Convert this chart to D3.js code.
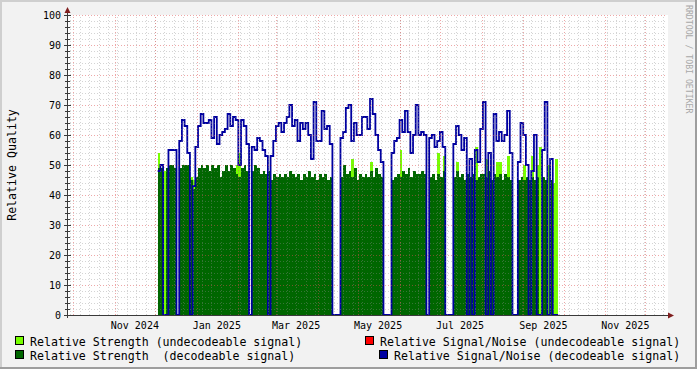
<!DOCTYPE html>
<html><head><meta charset="utf-8">
<script src="https://cdn.jsdelivr.net/npm/d3@7"></script>
<style>
html,body{margin:0;padding:0;background:#F2F2F2;}
svg{display:block;}
text{font-family:"DejaVu Sans Mono",monospace;}
</style></head><body>
<svg id="c" width="697" height="369"></svg>
<script>
// ---------------- data ----------------
const startDate = new Date(2024, 11, 3);   // first sample (Dec 3 2024)
const stepDays = 2;                        // one value every 2 days
const strengthUndecodeable = [
 54,0,48,0,0,0,0,0,0,0,
 0,0,46,45,0,0,0,0,0,0,
 0,0,0,0,0,0,0,0,0,50,
 54,0,0,0,0,0,0,0,0,0,
 0,0,0,0,0,0,0,0,0,0,
 0,0,0,0,0,0,0,0,0,0,
 0,0,0,0,0,0,0,0,0,0,
 0,0,52,0,0,0,0,0,0,51,
 0,0,0,0,0,0,0,0,0,0,
 55,0,0,0,0,0,0,0,0,0,
 0,0,0,0,54,0,53,0,0,0,
 0,51,0,0,0,0,0,0,56,0,
 0,0,52,0,0,0,51,51,0,0,
 53,0,0,0,0,0,50,0,0,53,
 0,50,56,0,0,50,0,44,52];
const snrUndecodeable = strengthUndecodeable.map(() => 0);
const strengthDecodeable = [
 49,49,0,49,50,50,49,0,49,50,
 50,50,45,42,46,49,50,49,50,48,
 50,49,50,46,48,50,48,50,49,47,
 46,49,50,48,0,48,50,49,47,48,
 47,48,45,47,46,47,46,47,46,48,
 47,46,47,45,47,46,48,46,47,45,
 47,46,47,45,46,0,0,0,46,50,
 47,48,46,49,45,47,46,47,46,48,
 46,49,47,46,0,0,0,45,46,47,
 46,48,47,49,46,48,47,47,48,47,
 0,46,47,45,47,46,48,0,0,0,
 46,48,46,47,45,47,46,47,45,46,
 47,47,46,48,45,47,46,47,45,47,
 46,45,0,0,45,46,45,46,45,46,
 45,46,0,46,45,0,45,0,0];
const snrDecodeable = [
 48,50,0,0,55,55,55,0,58,65,
 63,54,0,43,56,63,67,64,64,65,
 59,66,57,60,61,62,67,63,66,65,
 50,65,63,57,0,56,55,59,58,55,
 53,0,53,58,63,64,61,64,66,70,
 63,65,58,64,62,64,60,52,71,58,
 58,68,62,63,57,0,0,0,59,61,
 69,70,58,64,60,60,66,66,62,72,
 67,60,55,51,0,0,0,54,58,59,
 65,61,68,61,54,60,70,60,61,60,
 0,59,60,56,58,61,56,0,0,0,
 57,63,60,55,59,0,52,0,55,51,
 62,71,0,54,0,67,58,61,58,60,
 68,54,0,0,51,64,60,50,0,48,
 60,0,0,55,71,0,52,0,0];
const yTickValues = [0,10,20,30,40,50,60,70,80,90,100];
const xTickLabels = ["Nov 2024","Jan 2025","Mar 2025","May 2025","Jul 2025","Sep 2025","Nov 2025"];
const legendLabels = [
  "Relative Strength (undecodeable signal)",
  "Relative Signal/Noise (undecodeable signal)",
  "Relative Strength  (decodeable signal)",
  "Relative Signal/Noise (decodeable signal)"];
const yTitle = "Relative Quality";
const watermark = "RRDTOOL / TOBI OETIKER";

// ---------------- style ----------------
const C = {back:"#F2F2F2", shadeA:"#CFCFCF", shadeB:"#9E9E9E", canvas:"#FFFFFF",
  grid:"rgba(143,143,143,0.38)", mgrid:"rgba(222,79,79,0.5)", axis:"#3a3a3a", arrow:"#801F1F",
  und:"#77FF00", undSnr:"#FF0000", dec:"#006600", snr:"#0000A0"};

const svg = d3.select("#c");
const x = d3.scaleTime()
  .domain([new Date(2024, 8, 26, 12), new Date(2025, 11, 17, 0)])
  .range([67, 667]);
const y = d3.scaleLinear().domain([0, 100]).range([315, 15]);

// frame
svg.append("rect").attr("width",697).attr("height",369).attr("fill",C.back);
svg.append("rect").attr("x",0).attr("y",0).attr("width",697).attr("height",2).attr("fill",C.shadeA);
svg.append("rect").attr("x",0).attr("y",0).attr("width",2).attr("height",369).attr("fill",C.shadeA);
svg.append("rect").attr("x",0).attr("y",367).attr("width",697).attr("height",2).attr("fill",C.shadeB);
svg.append("rect").attr("x",695).attr("y",0).attr("width",2).attr("height",369).attr("fill",C.shadeB);
// canvas
svg.append("rect").attr("x",x.range()[0]).attr("y",y(100)).attr("width",x.range()[1]-x.range()[0]+1)
  .attr("height",y(0)-y(100)).attr("fill",C.canvas);

function series(arr){
  const pts = arr.map((v,i)=>({t:d3.timeDay.offset(startDate,i*stepDays), v}));
  pts.push({t:d3.timeDay.offset(startDate,arr.length*stepDays), v:arr[arr.length-1]});
  return pts;
}
const area = d3.area().x(d=>x(d.t)).y0(y(0)).y1(d=>y(d.v)).curve(d3.curveStepAfter);
const line = d3.line().x(d=>x(d.t)).y(d=>y(d.v)).curve(d3.curveStepAfter);

const plot = svg.append("g");
plot.append("path").datum(series(strengthUndecodeable)).attr("d",area).attr("fill",C.und).attr("shape-rendering","crispEdges");
plot.append("path").datum(series(strengthDecodeable)).attr("d",area).attr("fill",C.dec).attr("shape-rendering","crispEdges");
plot.append("path").datum(series(snrDecodeable)).attr("d",line).attr("fill","none")
  .attr("stroke",C.snr).attr("stroke-width",1.8).attr("stroke-linejoin","miter");

// grid (drawn on top, like rrdtool)
const grid = svg.append("g").attr("shape-rendering","crispEdges").attr("stroke-dasharray","1,2");
const [x0,x1] = x.range();
const minorY = d3.range(2,101,2).filter(v=>v%10!==0);
grid.selectAll(".hm").data(minorY).join("line")
  .attr("x1",x0).attr("x2",x1).attr("y1",d=>Math.round(y(d))+0.5).attr("y2",d=>Math.round(y(d))+0.5)
  .attr("stroke",C.grid);
const weeks = d3.timeSunday.range(x.domain()[0], x.domain()[1]);
grid.selectAll(".vm").data(weeks).join("line")
  .attr("x1",d=>Math.round(x(d))+0.5).attr("x2",d=>Math.round(x(d))+0.5).attr("y1",y(0)).attr("y2",y(100))
  .attr("stroke",C.grid);
grid.selectAll(".hM").data(yTickValues.filter(v=>v>0)).join("line")
  .attr("x1",x0).attr("x2",x1).attr("y1",d=>Math.round(y(d))+0.5).attr("y2",d=>Math.round(y(d))+0.5)
  .attr("stroke",C.mgrid);
const months = d3.timeMonth.range(x.domain()[0], x.domain()[1]);
grid.selectAll(".vM").data(months).join("line")
  .attr("x1",d=>Math.round(x(d))+0.5).attr("x2",d=>Math.round(x(d))+0.5).attr("y1",y(0)).attr("y2",y(100))
  .attr("stroke",C.mgrid);

// axes
const ax = svg.append("g").attr("shape-rendering","crispEdges");
ax.append("line").attr("x1",64).attr("x2",668).attr("y1",315.5).attr("y2",315.5).attr("stroke",C.axis);
ax.append("line").attr("x1",67.5).attr("x2",67.5).attr("y1",318).attr("y2",13).attr("stroke",C.axis);
// y ticks
ax.selectAll(".ytm").data(minorY).join("line")
  .attr("x1",65).attr("x2",70).attr("y1",d=>Math.round(y(d))+0.5).attr("y2",d=>Math.round(y(d))+0.5).attr("stroke",C.axis);
ax.selectAll(".ytM").data(yTickValues).join("line")
  .attr("x1",64).attr("x2",71).attr("y1",d=>Math.round(y(d))+0.5).attr("y2",d=>Math.round(y(d))+0.5).attr("stroke",C.axis);
svg.append("path").attr("d","M668,312.5L674,315.5L668,318.5Z").attr("fill",C.arrow);
svg.append("path").attr("d","M64.5,13L67.5,7L70.5,13Z").attr("fill",C.arrow);

// tick labels
svg.append("g").selectAll("text").data(yTickValues).join("text")
  .attr("x",61).attr("y",d=>y(d)+3.6).attr("text-anchor","end")
  .attr("font-size","10px").attr("fill","#000").text(d=>d);
const parseM = d3.timeParse("%b %Y");
svg.append("g").selectAll("text").data(xTickLabels).join("text")
  .attr("x",d=>x(d3.timeDay.offset(parseM(d),15))).attr("y",328.5).attr("text-anchor","middle")
  .attr("font-size","10px").attr("fill","#000").text(d=>d);

// titles
svg.append("text").attr("transform","translate(15.5,165) rotate(-90)").attr("text-anchor","middle")
  .attr("font-size","11.6px").attr("fill","#000").text(yTitle);
svg.append("text").attr("transform","translate(685.5,5) rotate(90)").attr("text-anchor","start")
  .attr("font-size","8.2px").attr("fill","#A8A8A8").text(watermark);

// legend
const legendPos = [
  {bx:15.5, by:336.5, tx:30, ty:345.5, c:C.und},
  {bx:365.5, by:336.5, tx:380, ty:345.5, c:C.undSnr},
  {bx:15.5, by:350.5, tx:30, ty:359.5, c:C.dec},
  {bx:379.5, by:350.5, tx:394, ty:359.5, c:C.snr}];
const lg = svg.append("g");
legendLabels.forEach((lab,i)=>{
  const p = legendPos[i];
  lg.append("rect").attr("x",p.bx).attr("y",p.by).attr("width",8).attr("height",8)
    .attr("fill",p.c).attr("stroke","#000").attr("stroke-width",1).attr("shape-rendering","crispEdges");
  lg.append("text").attr("x",p.tx).attr("y",p.ty).attr("font-size","11.6px").attr("fill","#000")
    .attr("xml:space","preserve").style("white-space","pre").text(lab);
});
</script>
</body></html>
